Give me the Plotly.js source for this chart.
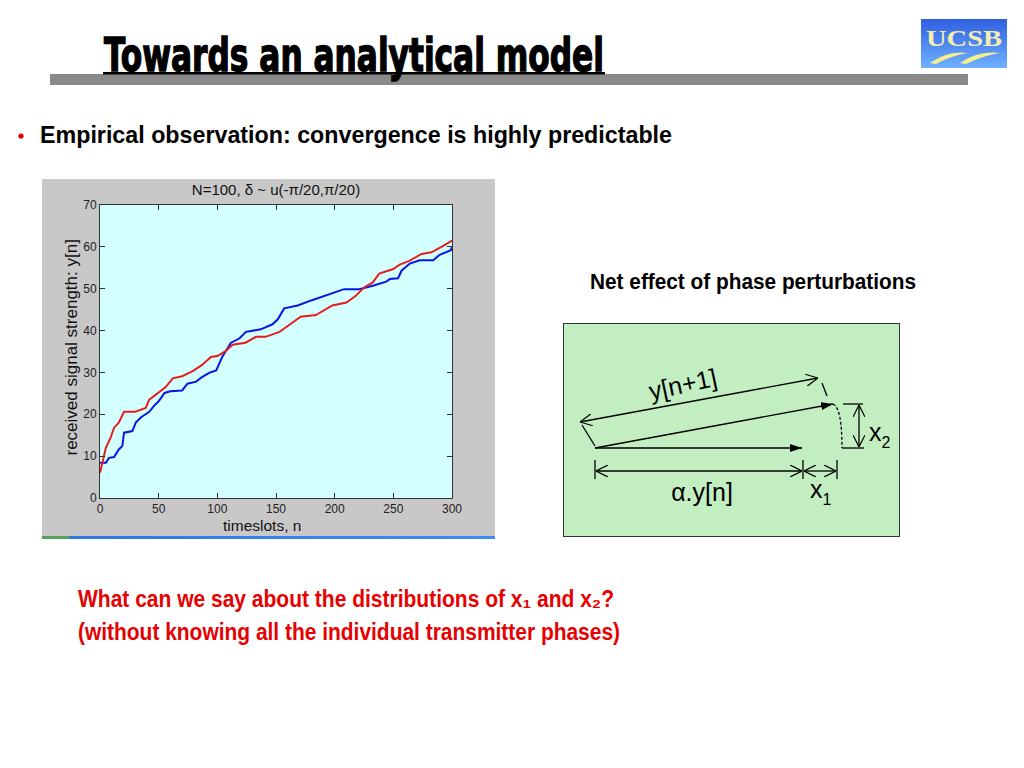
<!DOCTYPE html>
<html>
<head>
<meta charset="utf-8">
<script src="https://cdn.plot.ly/plotly-3.0.1.min.js"></script>
<style>
html,body{margin:0;padding:0;background:#fff;width:1024px;height:768px;overflow:hidden;}
#chart{position:absolute;left:42px;top:179px;width:453px;height:358px;}
#overlay{position:absolute;left:0;top:0;}
#strip{position:absolute;left:42px;top:536px;width:453px;height:3px;background:linear-gradient(90deg,#5aa05a 0,#5aa05a 6%,#2a7ae0 6%,#3a8ef0 100%);}
</style>
</head>
<body>
<svg id="overlay" width="1024" height="768" xmlns="http://www.w3.org/2000/svg">
  <defs>
    <marker id="fill" viewBox="0 0 12 8" refX="12" refY="4" markerWidth="12" markerHeight="8" markerUnits="userSpaceOnUse" orient="auto">
      <path d="M0,0 L12,4 L0,8 z" fill="#000"/>
    </marker>
    <marker id="openE" viewBox="0 0 12 12" refX="12" refY="6" markerWidth="12" markerHeight="12" markerUnits="userSpaceOnUse" orient="auto">
      <path d="M0,0 L12,6 L0,12" fill="none" stroke="#000" stroke-width="1.2"/>
    </marker>
    <marker id="openS" viewBox="0 0 12 12" refX="0" refY="6" markerWidth="12" markerHeight="12" markerUnits="userSpaceOnUse" orient="auto">
      <path d="M12,0 L0,6 L12,12" fill="none" stroke="#000" stroke-width="1.2"/>
    </marker>
    <linearGradient id="logoGrad" x1="0" y1="0" x2="0" y2="1">
      <stop offset="0" stop-color="#2f5fe0"/>
      <stop offset="1" stop-color="#6fb0ff"/>
    </linearGradient>
  </defs>

  <!-- slide title -->
  <rect x="50" y="74" width="918" height="11" fill="#8a8a8a"/>
  <text x="104" y="71" font-family="Liberation Sans Narrow, DejaVu Sans Condensed, Liberation Sans" font-weight="bold" font-size="47" stroke="#000" stroke-width="1.4" textLength="500" lengthAdjust="spacingAndGlyphs" fill="#000">Towards an analytical model</text>
  <rect x="103" y="72" width="502" height="2.5" fill="#000"/>

  <!-- logo -->
  <rect x="921" y="19" width="86" height="49" fill="url(#logoGrad)"/>
  <text x="964" y="46" text-anchor="middle" font-family="Liberation Serif, DejaVu Serif" font-weight="bold" font-size="23" fill="#f3eeb0" textLength="76" lengthAdjust="spacingAndGlyphs">UCSB</text>
  <path d="M930,63 Q948,50 968,53 Q950,56 936,64 z" fill="#f7ef8a"/>
  <path d="M960,63 Q978,50 1000,53 Q982,56 966,64 z" fill="#f7ef8a"/>

  <!-- bullet -->
  <circle cx="21" cy="136" r="2.6" fill="#e00000"/>
  <text x="40" y="143" font-family="Liberation Sans Narrow, Liberation Sans" font-weight="bold" font-size="24" textLength="632" lengthAdjust="spacingAndGlyphs" fill="#000">Empirical observation: convergence is highly predictable</text>

  <!-- right caption -->
  <text x="590" y="289" font-family="Liberation Sans Narrow, Liberation Sans" font-weight="bold" font-size="22" textLength="326" lengthAdjust="spacingAndGlyphs" fill="#000">Net effect of phase perturbations</text>

  <!-- diagram -->
  <rect x="563.5" y="323.5" width="336" height="213" fill="#c2eec2" stroke="#333" stroke-width="1"/>
  <g stroke="#000" stroke-width="1.3" fill="none">
    <line x1="595" y1="448" x2="802" y2="448" marker-end="url(#fill)"/>
    <line x1="595" y1="448" x2="833" y2="404" marker-end="url(#fill)"/>
    <line x1="580" y1="422" x2="818" y2="378" marker-start="url(#openS)" marker-end="url(#openE)"/>
    <line x1="582" y1="425" x2="595" y2="446"/>
    <line x1="822" y1="383" x2="827" y2="396"/>
    <path d="M833,404 Q842,408 842,448" stroke-dasharray="3,2"/>
    <line x1="843" y1="404" x2="863" y2="404"/>
    <line x1="842" y1="448" x2="864" y2="448"/>
    <line x1="859" y1="405" x2="859" y2="447" marker-start="url(#openS)" marker-end="url(#openE)"/>
    <line x1="595" y1="460" x2="595" y2="479"/>
    <line x1="803" y1="460" x2="803" y2="479"/>
    <line x1="837" y1="460" x2="837" y2="479"/>
    <line x1="596" y1="471" x2="802" y2="471" marker-start="url(#openS)" marker-end="url(#openE)"/>
    <line x1="804" y1="471" x2="836" y2="471" marker-start="url(#openS)" marker-end="url(#openE)"/>
  </g>
  <g font-family="Liberation Sans, Arial" fill="#000">
    <text x="683" y="393" font-size="25" text-anchor="middle" transform="rotate(-12 683 385)">y[n+1]</text>
    <text x="869" y="441" font-size="25">x<tspan font-size="16" dy="7">2</tspan></text>
    <text x="702" y="501" font-size="25" text-anchor="middle">α.y[n]</text>
    <text x="810" y="498" font-size="25">x<tspan font-size="16" dy="7">1</tspan></text>
  </g>

  <!-- red question -->
  <g font-family="Liberation Sans Narrow, Liberation Sans" font-weight="bold" font-size="23" fill="#e60000">
    <text x="78" y="607" textLength="536" lengthAdjust="spacingAndGlyphs">What can we say about the distributions of x₁ and x₂?</text>
    <text x="78" y="640" textLength="542" lengthAdjust="spacingAndGlyphs">(without knowing all the individual transmitter phases)</text>
  </g>
</svg>
<div id="chart"></div>
<div id="strip"></div>
<script>
// timeslot indices and received signal strength
var redN = [0,2,5,9,12,16,20.5,30,39,42,47.5,52,56,62,70,79,87,94.5,100,107,113,124,133,141,153,160,171,184,198,210,218,225,232.5,238,250,255,264,274,282.5,291,300];
var redY = [6.0,8.5,12,14.4,16.8,18,20.6,20.6,21.5,23.5,24.6,25.5,26.5,28.6,29.1,30.3,31.8,33.7,33.9,35.1,36.6,37.1,38.5,38.5,39.7,41.1,43.3,43.7,46,46.7,48.3,50.3,51.5,53.6,54.7,55.7,56.7,58.3,58.7,60,61.5];
var blueN = [0,5,7.7,12,16,19,20.5,27.6,30.5,35,42,46,50,55,60,70,74.5,82,87,93,99,104.5,111.6,118.7,124.4,137,147,151.5,157,168.5,180,195.5,208,221,232.5,244,247,254,257,264,272.5,284,289.5,299,300];
var blueY = [8.4,8.4,9.6,9.8,11.6,12.4,15.6,16,18,19.3,20.6,22,23.1,25.1,25.5,25.7,27.3,27.8,28.9,29.9,30.5,33.9,37.1,38.1,39.7,40.3,41.5,42.7,45.3,46,47.2,48.8,49.9,49.9,50.7,51.7,52.3,52.5,54.3,56,56.8,56.8,58.1,59.2,60];
var xTicks = [0,50,100,150,200,250,300];
var yTicks = [0,10,20,30,40,50,60,70];
var chartTitle = 'N=100, δ ~ u(-π/20,π/20)';
var xTitle = 'timeslots, n';
var yTitle = 'received signal strength: y[n]';

var traces = [
  {x: blueN, y: blueY, type: 'scatter', mode: 'lines', line: {color: '#0a14e6', width: 2}, hoverinfo: 'none'},
  {x: redN, y: redY, type: 'scatter', mode: 'lines', line: {color: '#e61e1e', width: 2}, hoverinfo: 'none'}
];
var axisFont = {family: 'Liberation Sans, Arial', size: 12, color: '#222'};
var titleFont = {family: 'Liberation Sans, Arial', size: 15.5, color: '#111'};
var layout = {
  width: 453, height: 358,
  margin: {l: 58, r: 43, t: 26, b: 39, pad: 0},
  paper_bgcolor: '#c8c8c8',
  plot_bgcolor: '#d4ffff',
  showlegend: false,
  title: {text: chartTitle, font: {family: 'Liberation Sans, Arial', size: 15, color: '#111'},
          x: 0.5, xref: 'paper', xanchor: 'center', y: 0.969, yref: 'container', yanchor: 'middle'},
  xaxis: {range: [0, 300], tickvals: xTicks, ticks: 'inside', ticklen: 5, tickcolor: '#333',
          showline: true, linecolor: '#333', linewidth: 1, mirror: 'ticks', showgrid: false, zeroline: false,
          tickfont: axisFont},
  yaxis: {range: [0, 70], tickvals: yTicks, ticks: 'inside', ticklen: 5, tickcolor: '#333',
          showline: true, linecolor: '#333', linewidth: 1, mirror: 'ticks', showgrid: false, zeroline: false,
          tickfont: axisFont},
  annotations: [
    {text: xTitle, xref: 'paper', yref: 'paper', x: 0.46, y: -0.093, xanchor: 'center', yanchor: 'middle', borderpad: 0, showarrow: false, font: titleFont},
    {text: yTitle, xref: 'paper', yref: 'paper', x: -0.082, y: 0.514, xanchor: 'center', yanchor: 'middle', textangle: -90, showarrow: false, font: {family: 'Liberation Sans, Arial', size: 17, color: '#111'}}
  ]
};
Plotly.newPlot('chart', traces, layout, {displayModeBar: false, staticPlot: true});
</script>
</body>
</html>
